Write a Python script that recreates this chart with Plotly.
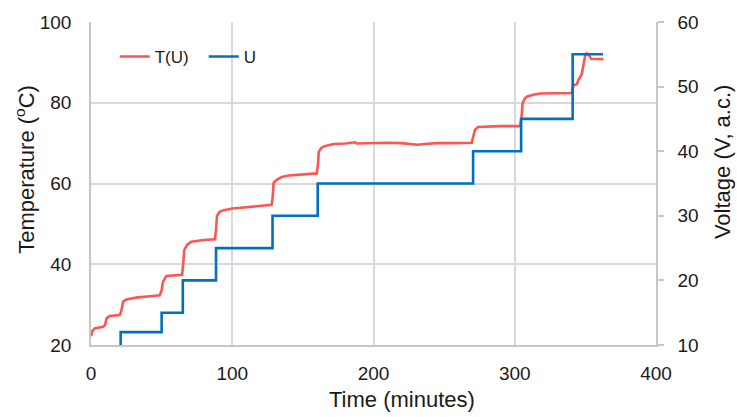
import plotly.graph_objects as go

# Temperature response T(U) sampled over the run (minutes, degrees C)
time_T = [0, 1, 2.6, 8.5, 10, 11, 13.2, 20.3, 21.5, 22.7, 25, 33, 40, 48.6, 50, 51, 53.3, 58,
          64.5, 65.4, 66, 68, 71, 80, 87.8, 88.5, 89.2, 91, 94, 100, 110, 120, 127.9, 128.7,
          129.3, 131.5, 135, 140, 150, 159.8, 160.6, 161.3, 163, 165, 168, 172, 180, 186, 187,
          188, 200, 210, 220, 226, 231, 236, 245, 255, 262, 269.5, 270.5, 271.9, 274, 280, 290,
          303.7, 304.8, 305.6, 307, 308.5, 313, 318, 330, 340.3, 341, 341.8, 344, 345, 347.4,
          348.5, 349.7, 351, 352.5, 354, 358, 362.7]
temp_T = [22.2, 23.5, 24.1, 24.5, 25.0, 26.6, 27.2, 27.4, 28.5, 30.7, 31.3, 31.8, 32.0, 32.3,
          33.5, 35.7, 37.1, 37.3, 37.4, 40.5, 43.5, 44.8, 45.6, 46.0, 46.2, 48.5, 52.0, 53.0,
          53.4, 53.8, 54.1, 54.4, 54.7, 57.0, 60.2, 60.9, 61.6, 62.0, 62.2, 62.5, 64.5, 67.9,
          68.8, 69.2, 69.5, 69.8, 69.9, 70.0, 70.2, 69.9, 70.1, 70.1, 70.0, 69.8, 69.6, 69.8,
          70.0, 70.0, 70.1, 70.1, 71.5, 73.3, 74.0, 74.1, 74.2, 74.2, 76.5, 79.9, 81.0, 81.5,
          82.0, 82.3, 82.4, 82.4, 83.5, 84.4, 84.6, 85.6, 87.0, 89.0, 91.4, 92.2, 91.8, 90.9,
          90.8, 90.8]

# Applied voltage steps (minutes, V a.c.)
time_U = [0, 21, 50, 65, 88.5, 128.5, 160.5, 270.5, 304.5, 341, 362.5]
volt_U = [0, 12, 15, 20, 25, 30, 35, 40, 45, 55, 55]

x_ticks = [0, 100, 200, 300, 400]
t_ticks = [20, 40, 60, 80, 100]
u_ticks = [10, 20, 30, 40, 50, 60]

FONT = "Liberation Sans, Arial, sans-serif"
TEXT = "#1a1a1a"
GRID = "#d9d9d9"
AXIS = "#c6c6c6"

fig = go.Figure()
fig.add_trace(go.Scatter(x=time_T, y=temp_T, name="T(U)", mode="lines",
                         line=dict(color="#ff5454", width=2.6)))
fig.add_trace(go.Scatter(x=time_U, y=volt_U, name="U", mode="lines", yaxis="y2",
                         line=dict(color="#0070c0", width=2.6, shape="hv")))

fig.update_layout(
    width=737, height=417,
    margin=dict(l=91, r=81, t=22, b=72),
    paper_bgcolor="white", plot_bgcolor="white",
    font=dict(family=FONT, size=19, color=TEXT),
    showlegend=True,
    legend=dict(orientation="h", x=0.042, y=0.892, xanchor="left", yanchor="middle",
                bgcolor="rgba(0,0,0,0)", font=dict(size=17, color=TEXT),
                itemwidth=30, tracegroupgap=0, entrywidth=44, entrywidthmode="pixels"),
    xaxis=dict(range=[0, 400], tickvals=x_ticks, showgrid=True, gridcolor=GRID, gridwidth=1.5,
               showline=True, linecolor=AXIS, linewidth=1.5, mirror=False, zeroline=False,
               ticks="", ticklabelstandoff=10),
    yaxis=dict(range=[20, 100], tickvals=t_ticks, showgrid=True, gridcolor=GRID, gridwidth=1.5,
               showline=True, linecolor=AXIS, linewidth=1.5, zeroline=False,
               ticks="", ticklabelstandoff=14),
    yaxis2=dict(range=[10, 60], tickvals=u_ticks, overlaying="y", side="right",
                showgrid=False, showline=True, linecolor=AXIS, linewidth=1.5, zeroline=False,
                ticks="outside", ticklen=6, tickcolor=AXIS, tickwidth=1.5,
                ticklabelstandoff=10),
    annotations=[
        dict(text="Time (minutes)", xref="paper", yref="paper", x=0.551, y=-0.170,
             showarrow=False, xanchor="center", yanchor="middle", font=dict(size=22)),
        dict(text="Temperature (<sup>o</sup>C)", xref="paper", yref="paper", x=-0.117, y=0.545,
             showarrow=False, xanchor="center", yanchor="middle", textangle=-90,
             font=dict(size=22)),
        dict(text="Voltage (V, a.c.)", xref="paper", yref="paper", x=1.119, y=0.567,
             showarrow=False, xanchor="center", yanchor="middle", textangle=-90,
             font=dict(size=22)),
    ],
)

fig.write_html("out.html")
